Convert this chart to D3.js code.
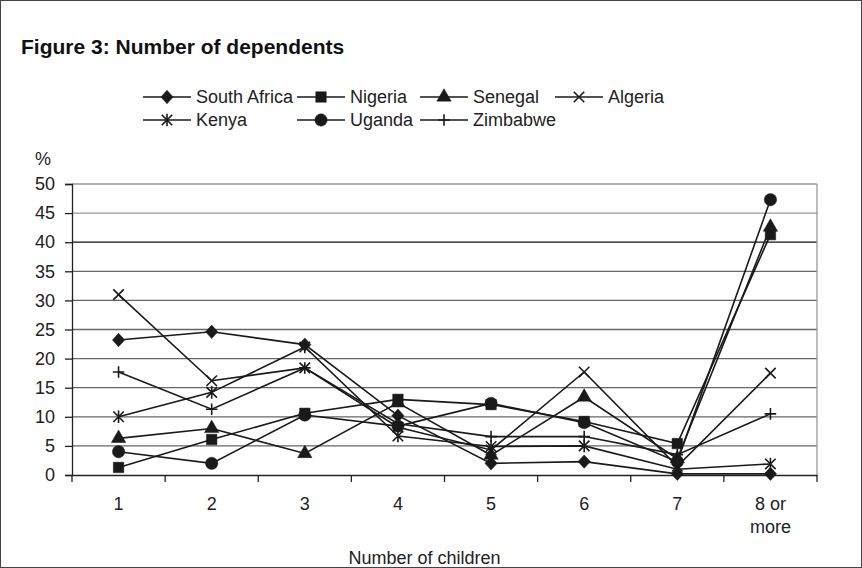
<!DOCTYPE html>
<html>
<head>
<meta charset="utf-8">
<script src="https://cdn.jsdelivr.net/npm/d3@7"></script>
<style>
  body { margin: 0; background: #fff; }
  svg { display: block; font-family: "Liberation Sans", Arial, sans-serif; }
</style>
</head>
<body>
<svg width="862" height="568"></svg>
<script>
const categories = ['1', '2', '3', '4', '5', '6', '7', '8 or more'];
const yTicks = [0, 5, 10, 15, 20, 25, 30, 35, 40, 45, 50];

const southAfrica = [23.2, 24.6, 22.4, 10.2, 2.0, 2.3, 0.2, 0.2];
const nigeria = [1.3, 6.1, 10.6, 13.0, 12.1, 9.2, 5.4, 41.3];
const senegal = [6.3, 8.0, 3.7, 12.4, 3.4, 13.4, 2.8, 42.6];
const algeria = [31.0, 16.2, 18.4, 8.2, 4.3, 17.7, 1.5, 17.5];
const kenya = [10.0, 14.2, 22.0, 6.7, 4.9, 5.0, 1.0, 1.9];
const uganda = [4.0, 2.0, 10.3, 8.4, 12.3, 9.0, 2.3, 47.3];
const zimbabwe = [17.7, 11.3, 18.4, 8.8, 6.6, 6.6, 3.5, 10.5];

const seriesNames = ['South Africa', 'Nigeria', 'Senegal', 'Algeria', 'Kenya', 'Uganda', 'Zimbabwe'];
const seriesValues = [southAfrica, nigeria, senegal, algeria, kenya, uganda, zimbabwe];
const markerKinds = ['diamond', 'square', 'triangle', 'x', 'star', 'circle', 'plus'];

const svg = d3.select('svg');
const W = 862, H = 568;
const plot = { left: 72, right: 817, top: 184, bottom: 475 };

// frame
svg.append('rect')
  .attr('x', 0.5).attr('y', 0.5)
  .attr('width', W - 1).attr('height', H - 1)
  .attr('fill', 'none').attr('stroke', '#444').attr('stroke-width', 1);

svg.append('text')
  .attr('x', 21).attr('y', 54)
  .attr('font-size', 21).attr('font-weight', 'bold')
  .attr('fill', '#111')
  .text('Figure 3: Number of dependents');

const x = d3.scaleBand().domain(categories).range([plot.left, plot.right]);
const y = d3.scaleLinear().domain([0, 50]).range([plot.bottom, plot.top]);
const cx = d => x(d) + x.bandwidth() / 2;

// gridlines
const gridColor = v => v === 40 ? '#111' : (v >= 45 ? '#999' : '#666');
svg.append('g').selectAll('line')
  .data(yTicks.filter(v => v > 0))
  .enter().append('line')
  .attr('x1', plot.left).attr('x2', plot.right)
  .attr('y1', d => y(d)).attr('y2', d => y(d))
  .attr('stroke', gridColor).attr('stroke-width', 1.3);

// right border of plot area
svg.append('line')
  .attr('x1', plot.right).attr('x2', plot.right)
  .attr('y1', plot.top).attr('y2', plot.bottom)
  .attr('stroke', '#999').attr('stroke-width', 1.3);

// y axis
const yAxis = svg.append('g')
  .attr('transform', `translate(${plot.left},0)`)
  .call(d3.axisLeft(y).tickValues(yTicks).tickSize(7).tickPadding(10));
yAxis.select('.domain').attr('stroke', '#222').attr('stroke-width', 1.3);
yAxis.selectAll('.tick line').attr('stroke', '#222').attr('stroke-width', 1.3);
yAxis.selectAll('.tick text')
  .attr('font-size', 18).attr('fill', '#222')
  .attr('font-family', '"Liberation Sans", Arial, sans-serif');

svg.append('text')
  .attr('x', 35).attr('y', 165)
  .attr('font-size', 18).attr('fill', '#222')
  .text('%');

// x axis
const xAxis = svg.append('g')
  .attr('transform', `translate(0,${plot.bottom})`)
  .call(d3.axisBottom(x).tickSize(0).tickPadding(0));
xAxis.select('.domain').attr('stroke', '#222').attr('stroke-width', 1.3);
xAxis.selectAll('.tick text').remove();
xAxis.selectAll('.tick').each(function (d) {
  const parts = d === '8 or more' ? ['8 or', 'more'] : [d];
  const t = d3.select(this).append('text')
    .attr('fill', '#222').attr('font-size', 18)
    .attr('font-family', '"Liberation Sans", Arial, sans-serif')
    .attr('text-anchor', 'middle');
  parts.forEach((p, i) => t.append('tspan').attr('x', 0).attr('y', 35 + i * 23).text(p));
});
xAxis.selectAll('.bound')
  .data(categories.map(c => x(c)).concat([plot.right]))
  .enter().append('line')
  .attr('class', 'bound')
  .attr('x1', d => d).attr('x2', d => d)
  .attr('y1', 0).attr('y2', 7)
  .attr('stroke', '#222').attr('stroke-width', 1.3);

svg.append('text')
  .attr('x', (plot.left + plot.right) / 2 - 20).attr('y', 564)
  .attr('text-anchor', 'middle')
  .attr('font-size', 18).attr('fill', '#222')
  .text('Number of children');

// marker shapes
const strokeSymbol = fn => ({ draw: (ctx, size) => fn(ctx, Math.sqrt(size) / 2) });
const diamondShape = strokeSymbol((c, r) => {
  c.moveTo(0, -r * 1.1); c.lineTo(r, 0); c.lineTo(0, r * 1.1); c.lineTo(-r, 0); c.closePath();
});
const xShape = strokeSymbol((c, r) => {
  c.moveTo(-r, -r); c.lineTo(r, r);
  c.moveTo(-r, r); c.lineTo(r, -r);
});
const starShape = strokeSymbol((c, r) => {
  c.moveTo(-r, -r); c.lineTo(r, r);
  c.moveTo(-r, r); c.lineTo(r, -r);
  c.moveTo(0, -r * 1.2); c.lineTo(0, r * 1.2);
});
const plusShape = strokeSymbol((c, r) => {
  c.moveTo(-r * 1.1, 0); c.lineTo(r * 1.1, 0);
  c.moveTo(0, -r * 1.1); c.lineTo(0, r * 1.1);
});
const markers = {
  diamond: { type: diamondShape, size: 150, fill: true },
  square: { type: d3.symbolSquare, size: 110, fill: true },
  triangle: { type: d3.symbolTriangle, size: 90, fill: true },
  circle: { type: d3.symbolCircle, size: 120, fill: true },
  x: { type: xShape, size: 110, fill: false },
  star: { type: starShape, size: 110, fill: false },
  plus: { type: plusShape, size: 110, fill: false }
};
function drawMarker(g, kind, px, py) {
  const m = markers[kind];
  g.append('path')
    .attr('d', d3.symbol().type(m.type).size(m.size)())
    .attr('transform', `translate(${px},${py})`)
    .attr('fill', m.fill ? '#1a1a1a' : 'none')
    .attr('stroke', '#1a1a1a')
    .attr('stroke-width', m.fill ? 0.5 : 1.6);
}

// series
const line = d3.line().x((d, i) => cx(categories[i])).y(d => y(d));
seriesValues.forEach((vals, si) => {
  const g = svg.append('g');
  g.append('path')
    .attr('d', line(vals))
    .attr('fill', 'none')
    .attr('stroke', '#1a1a1a')
    .attr('stroke-width', 1.6);
  vals.forEach((v, i) => drawMarker(g, markerKinds[si], cx(categories[i]), y(v)));
});

// legend
const legendCols = [143, 297, 420, 555];
const legendRows = [97, 120];
seriesNames.forEach((name, i) => {
  const lx = legendCols[i % 4];
  const ly = legendRows[Math.floor(i / 4)];
  const g = svg.append('g');
  g.append('line')
    .attr('x1', lx).attr('x2', lx + 48)
    .attr('y1', ly).attr('y2', ly)
    .attr('stroke', '#1a1a1a').attr('stroke-width', 1.6);
  drawMarker(g, markerKinds[i], lx + 24, ly);
  g.append('text')
    .attr('x', lx + 53).attr('y', ly + 6)
    .attr('font-size', 18).attr('fill', '#222')
    .text(name);
});
</script>
</body>
</html>
